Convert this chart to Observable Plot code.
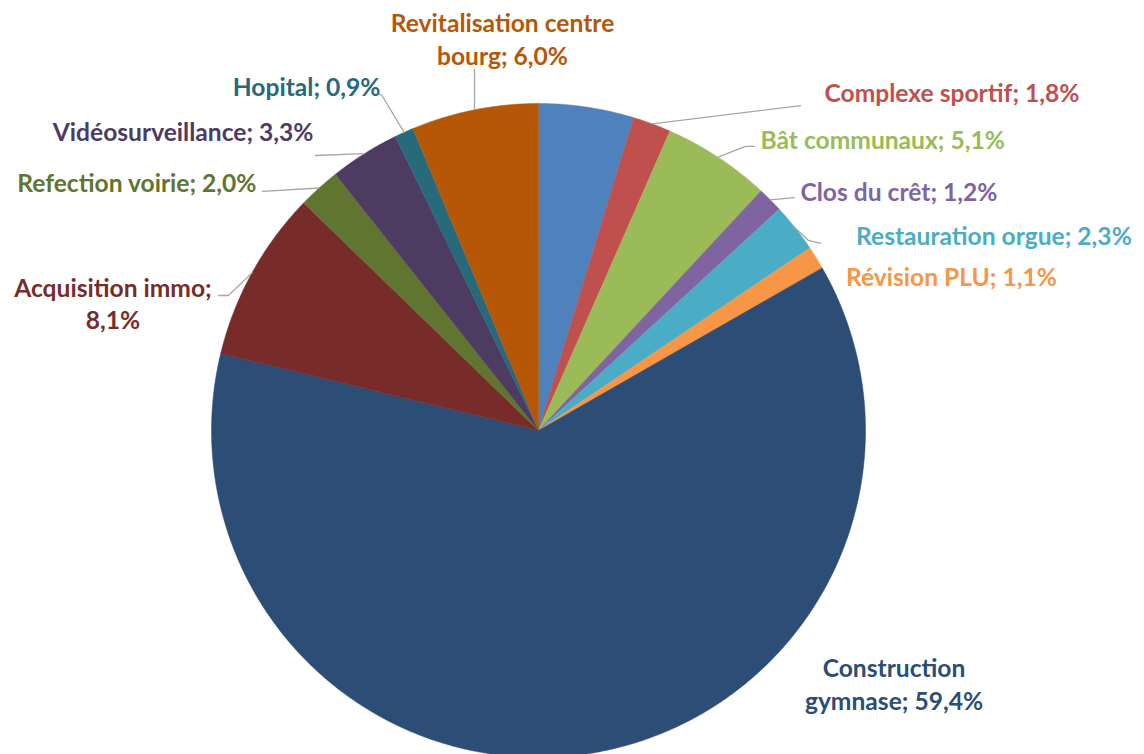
<!DOCTYPE html>
<html>
<head>
<meta charset="utf-8">
<script src="https://cdn.jsdelivr.net/npm/d3@7"></script>
<script src="https://cdn.jsdelivr.net/npm/@observablehq/plot@0.6"></script>
<style>
  body { margin: 0; background: #ffffff; }
  #chart svg { display: block; }
  g[aria-label="pie"] { filter: drop-shadow(0px 0px 4px rgba(0,0,0,0.35)); }
</style>
</head>
<body>
<div id="chart"></div>
<script>
// ---- data ----
const categories = ["Autres", "Complexe sportif", "Bât communaux", "Clos du crêt", "Restauration orgue", "Révision PLU", "Construction gymnase", "Acquisition immo", "Refection voirie", "Vidéosurveillance", "Hopital", "Revitalisation centre bourg"];
const values = [4.5, 1.8, 5.1, 1.2, 2.3, 1.1, 59.4, 8.1, 2.0, 3.3, 0.9, 6.0];
const showLabel = [false, true, true, true, true, true, true, true, true, true, true, true];

// ---- styles ----
const palette = ["#4F81BD", "#C0504D", "#9BBB59", "#8064A2", "#4BACC6", "#F79646", "#2C4D75", "#772C2A", "#5F7530", "#4D3B62", "#276A7C", "#B65708"];

// ---- layout ----
const W = 1144, H = 754, CX = 538, CY = 430, R = 327;
// label offsets relative to the slice's mid-arc point, anchor, wrapping, leader elbows
const labelLayout = [
  null,
  {dx: 172.5, dy: -32,   anchor: "start",  wrap: "none",        leader: [[148.5, -18.3]]},
  {dx: 42.5,  dy: -18.7, anchor: "start",  wrap: "none",        leader: [[27.5, -10.7], [36.5, -10.7]]},
  {dx: 30.2,  dy: -8.8,  anchor: "start",  wrap: "none",        leader: [[24.2, -2.3]]},
  {dx: 60.8,  dy: 6.8,   anchor: "start",  wrap: "none",        leader: [[13.3, 12.5], [25.3, 15.5]]},
  {dx: 29.8,  dy: 17.7,  anchor: "start",  wrap: "none",        leader: null},
  {dx: 309.5, dy: -71.2, anchor: "middle", wrap: "firstSpace",  leader: null},
  {dx: -139.2,dy: 29.8,  anchor: "middle", wrap: "beforeValue", leader: [[-23.7, 22.9], [-33.7, 22.9]]},
  {dx: -62.6, dy: -6.3,  anchor: "end",    wrap: "none",        leader: [[-56.6, 3.4]]},
  {dx: -50.9, dy: -22.9, anchor: "end",    wrap: "none",        leader: [[-48.9, 1.8]]},
  {dx: -23.6, dy: -46.9, anchor: "end",    wrap: "none",        leader: [[-22.6, -37.6], [-31.6, -38.6]]},
  {dx: 28,    dy: -71.6, anchor: "middle", wrap: "lastSpace",   leader: [[0, -40.3]]}
];

// ---- build geometry from data ----
const total = d3.sum(values);
let cum = 0;
const pt = a => [CX + R * Math.sin(a), CY - R * Math.cos(a)];
const slices = categories.map((name, i) => {
  const a0 = cum / total * 2 * Math.PI;
  cum += values[i];
  const a1 = cum / total * 2 * Math.PI;
  const n = Math.max(2, Math.ceil((a1 - a0) / (Math.PI / 360)));
  const ring = [[CX, CY]];
  for (let k = 0; k <= n; k++) ring.push(pt(a0 + (a1 - a0) * k / n));
  ring.push([CX, CY]);
  return {type: "Feature", properties: {name, value: values[i], mid: pt((a0 + a1) / 2)}, geometry: {type: "Polygon", coordinates: [ring]}};
});

const fmt = v => v.toFixed(1).replace(".", ",") + "%";
function labelText(name, v, wrap) {
  const p = fmt(v);
  if (wrap === "firstSpace") return name.replace(" ", "\n") + "; " + p;
  if (wrap === "beforeValue") return name + ";\n" + p;
  if (wrap === "lastSpace") { const k = name.lastIndexOf(" "); return name.slice(0, k) + "\n" + name.slice(k + 1) + "; " + p; }
  return name + "; " + p;
}

const labels = [];
const leaders = [];
slices.forEach((s, i) => {
  if (!showLabel[i]) return;
  const L = labelLayout[i];
  const [mx, my] = s.properties.mid;
  labels.push({name: s.properties.name, text: labelText(s.properties.name, s.properties.value, L.wrap), x: mx + L.dx, y: my + L.dy, anchor: L.anchor});
  if (L.leader) {
    leaders.push({name: s.properties.name, x: mx, y: my});
    L.leader.forEach(([ox, oy]) => leaders.push({name: s.properties.name, x: mx + ox, y: my + oy}));
  }
});

const frame = {type: "Polygon", coordinates: [[[0, 0], [W, 0], [W, H], [0, H], [0, 0]]]};
const textOpts = {x: "x", y: "y", text: "text", fill: "name", lineAnchor: "middle", fontSize: 24.6, fontWeight: "bold", fontFamily: "Lato", lineHeight: 1.32};

const chart = Plot.plot({
  width: W,
  height: H,
  margin: 0,
  projection: {type: "identity", domain: frame},
  color: {domain: categories, range: palette},
  style: {background: "#ffffff", fontFamily: "Lato"},
  marks: [
    Plot.geo(slices, {fill: d => d.properties.name, stroke: d => d.properties.name, strokeWidth: 0.5, ariaLabel: "pie"}),
    Plot.line(leaders, {x: "x", y: "y", z: "name", stroke: "#A6A6A6", strokeWidth: 1.3}),
    Plot.text(labels.filter(d => d.anchor === "start"), {...textOpts, textAnchor: "start"}),
    Plot.text(labels.filter(d => d.anchor === "middle"), {...textOpts, textAnchor: "middle"}),
    Plot.text(labels.filter(d => d.anchor === "end"), {...textOpts, textAnchor: "end"})
  ]
});
document.getElementById("chart").appendChild(chart);
</script>
</body>
</html>
